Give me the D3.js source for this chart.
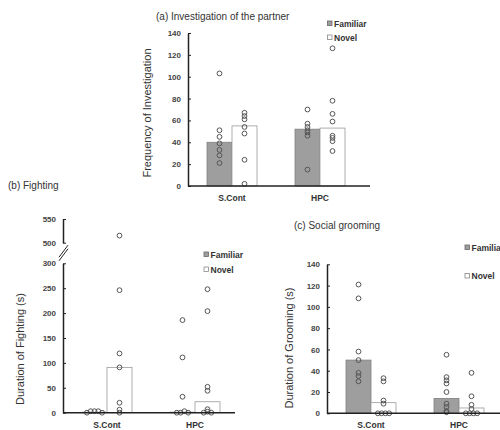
<!DOCTYPE html>
<html>
<head>
<meta charset="utf-8">
<script src="https://cdn.jsdelivr.net/npm/d3@7"></script>
<style>
body { margin: 0; background: #fff; }
svg { display: block; font-family: Arial, "Liberation Sans", sans-serif; }
.tick text { font-weight: bold; font-size: 8px; fill: #444; }
.tick line { stroke: #222; }
.domain { stroke: #222; stroke-width: 1.5; }
</style>
</head>
<body>
<svg width="500" height="430"></svg>
<script>
// categories and groups shared by all three panels
var categories = ['S.Cont', 'HPC'];
var groups = ['Familiar', 'Novel'];

// (a) Investigation of the partner
var invTicks = [0, 20, 40, 60, 80, 100, 120, 140];
var invFamiliarBars = [40, 52];
var invNovelBars = [55, 53];
var invFamiliarPts = [[103, 51, 45, 39, 33, 28, 21], [70, 57, 54, 51, 49, 46, 15]];
var invNovelPts = [[67, 64, 61, 54, 48, 24, 2], [126, 78, 66, 59, 46, 44, 41, 32]];

// (b) Fighting (broken axis)
var fightTicksLow = [0, 50, 100, 150, 200, 250, 300];
var fightTicksHigh = [500, 550];
var fightFamiliarBars = [1, 1];
var fightNovelBars = [91, 22];
var fightFamiliarPts = [[0, 3, 3, 3, 0], [186, 111, 32, 0, 0, 3, 0]];
var fightNovelPts = [[515, 246, 119, 91, 20, 6, 0], [248, 204, 52, 44, 7, 0, 2, 0]];

// (c) Social grooming
var groomTicks = [0, 20, 40, 60, 80, 100, 120, 140];
var groomFamiliarBars = [50, 14];
var groomNovelBars = [10, 5];
var groomFamiliarPts = [[121, 108, 58, 50, 38, 35, 30], [55, 34, 31, 28, 20, 9, 6, 2, 1]];
var groomNovelPts = [[33, 30, 12, 9, 0, 0, 0, 0], [38, 16, 8, 4, 0, 0, 0, 0]];

var svg = d3.select('svg');
var textColor = '#333';
var barWidth = 25;
var dotR = 2.4;

function drawPanel(p) {
    var g = svg.append('g');
    var x = d3.scalePoint().domain(categories).range([p.x0, p.x0 + 176]).padding(0.5);
    var sub = d3.scaleBand().domain(groups).range([-barWidth, barWidth]);
    var y = p.y;
    var base = y(0);

    // bars
    categories.forEach(function(c, i) {
        var vals = [p.famBars[i], p.novBars[i]];
        groups.forEach(function(gr, j) {
            g.append('rect')
                .attr('x', x(c) + sub(gr))
                .attr('y', y(vals[j]))
                .attr('width', sub.bandwidth())
                .attr('height', base - y(vals[j]))
                .attr('fill', j === 0 ? '#9e9e9e' : '#fff')
                .attr('stroke', j === 0 ? '#808080' : '#9a9a9a')
                .attr('stroke-width', 0.8);
        });
    });

    // points: values sitting on the baseline get spread sideways
    categories.forEach(function(c, i) {
        var sets = [p.famPts[i], p.novPts[i]];
        groups.forEach(function(gr, j) {
            var cx = x(c) + sub(gr) + sub.bandwidth() / 2;
            var vals = sets[j];
            var floor = vals.filter(function(v) { return base - y(v) < 2; });
            var k = 0;
            vals.forEach(function(v) {
                var off = 0;
                if (base - y(v) < 2) {
                    off = (k - (floor.length - 1) / 2) * 3.8;
                    k++;
                }
                g.append('circle')
                    .attr('cx', cx + off)
                    .attr('cy', y(v))
                    .attr('r', dotR)
                    .attr('fill', 'none')
                    .attr('stroke', '#555')
                    .attr('stroke-width', 1);
            });
        });
    });

    // axes
    p.axes.forEach(function(ax) {
        g.append('g')
            .attr('transform', 'translate(' + p.x0 + ',0)')
            .call(d3.axisLeft(ax.scale).tickValues(ax.ticks).tickSizeInner(-3).tickSizeOuter(0).tickPadding(7));
    });
    g.append('line')
        .attr('x1', p.x0).attr('x2', p.xEnd)
        .attr('y1', base).attr('y2', base)
        .attr('stroke', '#222').attr('stroke-width', 1.5);

    categories.forEach(function(c) {
        g.append('text')
            .attr('x', x(c)).attr('y', base + 15)
            .attr('text-anchor', 'middle')
            .style('font-size', '8.5px').style('font-weight', 'bold')
            .attr('fill', textColor)
            .text(c);
    });

    // title + y label
    g.append('text')
        .attr('x', p.title[0]).attr('y', p.title[1])
        .style('font-size', '10px').attr('fill', textColor)
        .text(p.titleText);
    g.append('text')
        .attr('transform', 'translate(' + p.ylab[0] + ',' + p.ylab[1] + ') rotate(-90)')
        .attr('text-anchor', 'middle')
        .style('font-size', '11px').attr('fill', textColor)
        .text(p.ylabText);

    // legend
    groups.forEach(function(gr, j) {
        var ly = p.legend[1] + j * p.legend[2];
        g.append('rect')
            .attr('x', p.legend[0]).attr('y', ly - 5.5)
            .attr('width', 4.5).attr('height', 4.5)
            .attr('fill', j === 0 ? '#9e9e9e' : '#fff')
            .attr('stroke', j === 0 ? '#666' : '#888')
            .attr('stroke-width', 0.8);
        g.append('text')
            .attr('x', p.legend[0] + 6.5).attr('y', ly)
            .style('font-size', '8.5px').style('font-weight', 'bold')
            .attr('fill', textColor)
            .text(gr);
    });
    return g;
}

// (a)
var yInv = d3.scaleLinear().domain([0, 140]).range([186, 33]);
drawPanel({
    x0: 188, xEnd: 370, y: yInv,
    axes: [{scale: yInv, ticks: invTicks}],
    famBars: invFamiliarBars, novBars: invNovelBars,
    famPts: invFamiliarPts, novPts: invNovelPts,
    titleText: '(a) Investigation of the partner', title: [156, 20],
    ylabText: 'Frequency of Investigation', ylab: [151, 113],
    legend: [327.5, 26.5, 14]
});

// (b) broken y axis: low part 0-300, high part 500-550
var yFightLow = d3.scaleLinear().domain([0, 300]).range([412.7, 263.3]);
var yFightHigh = d3.scaleLinear().domain([500, 550]).range([242.7, 219]);
var yFight = function(v) { return v > 400 ? yFightHigh(v) : yFightLow(v); };
var gb = drawPanel({
    x0: 63, xEnd: 235, y: yFight,
    axes: [{scale: yFightLow, ticks: fightTicksLow}, {scale: yFightHigh, ticks: fightTicksHigh}],
    famBars: fightFamiliarBars, novBars: fightNovelBars,
    famPts: fightFamiliarPts, novPts: fightNovelPts,
    titleText: '(b) Fighting', title: [8, 189],
    ylabText: 'Duration of Fighting (s)', ylab: [24, 349],
    legend: [204, 257.5, 15]
});
// break marks
var mid = (yFightLow(300) + yFightHigh(500)) / 2;
[-1.8, 1.8].forEach(function(d) {
    gb.append('line')
        .attr('x1', 59).attr('y1', mid + 6 + d)
        .attr('x2', 68).attr('y2', mid - 6 + d)
        .attr('stroke', '#222').attr('stroke-width', 1);
});

// (c)
var yGroom = d3.scaleLinear().domain([0, 140]).range([413.3, 264.3]);
drawPanel({
    x0: 327, xEnd: 505, y: yGroom,
    axes: [{scale: yGroom, ticks: groomTicks}],
    famBars: groomFamiliarBars, novBars: groomNovelBars,
    famPts: groomFamiliarPts, novPts: groomNovelPts,
    titleText: '(c) Social grooming', title: [294, 229],
    ylabText: 'Duration of Grooming (s)', ylab: [293, 348],
    legend: [465, 250.5, 28.5]
});
</script>
</body>
</html>
